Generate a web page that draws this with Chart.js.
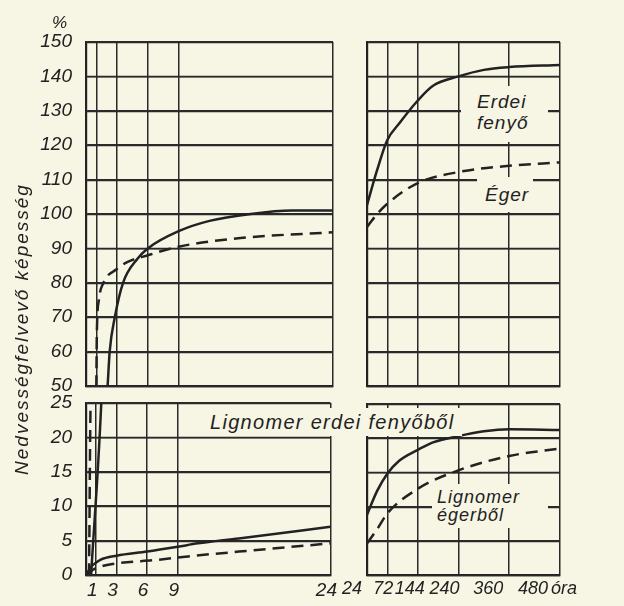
<!DOCTYPE html>
<html>
<head>
<meta charset="utf-8">
<script src="https://cdn.jsdelivr.net/npm/chart.js@4.4.1/dist/chart.umd.min.js"></script>
<style>
  body { margin: 0; background: #f7f5e3; width: 624px; height: 606px; overflow: hidden; position: relative; }
  .panel { position: absolute; }
  .txt { position: absolute; font-family: "Liberation Sans", Arial, sans-serif; font-style: italic; color: #222; background: #f7f5e3; z-index: 5; }
</style>
</head>
<body>
<div class="panel" style="left:0;top:0"><canvas id="tl" width="345" height="420"></canvas></div>
<div class="panel" style="left:350px;top:0"><canvas id="tr" width="220" height="390"></canvas></div>
<div class="panel" style="left:0;top:370px"><canvas id="bl" width="345" height="236"></canvas></div>
<div class="panel" style="left:335px;top:395px"><canvas id="br" width="289" height="211"></canvas></div>

<div class="txt" style="left:52px;top:13px;font-size:17px;background:none">%</div>
<div class="txt" style="left:-138px;top:318px;width:320px;text-align:center;font-size:19px;line-height:22px;letter-spacing:2px;transform:rotate(-90deg);background:none">Nedvességfelvevő képesség</div>
<div class="txt" style="left:461px;top:86px;width:87px;height:56px;font-size:19px;line-height:21px;padding-left:16px;box-sizing:border-box;padding-top:5px;letter-spacing:1px">Erdei<br>fenyő</div>
<div class="txt" style="left:477px;top:177px;width:56px;height:35px;font-size:19px;line-height:35px;padding-left:8px;box-sizing:border-box;letter-spacing:1px">Éger</div>
<div class="txt" style="left:206px;top:408px;width:256px;height:28px;font-size:20px;line-height:28px;padding-left:4px;box-sizing:border-box;letter-spacing:1.3px">Lignomer erdei fenyőből</div>
<div class="txt" style="left:432px;top:484px;width:116px;height:44px;font-size:18px;line-height:18px;padding-left:5px;padding-top:4px;box-sizing:border-box;letter-spacing:1px">Lignomer<br>égerből</div>

<script>
// hours 0-24 (wood curves, their steep start also shows in the lower panel)
const erdeiShortH = [0.5, 1.5, 2.1, 2.3, 2.8, 3.6, 5, 6, 9, 12, 16, 20, 24];
const erdeiShortPct = [0, 25, 50, 60, 70, 80, 87, 90, 95, 98, 100, 101, 101];
const egerShortH = [0.3, 0.45, 1.0, 1.05, 1.25, 1.7, 3, 4, 6, 9, 15, 24];
const egerShortPct = [0, 25, 50, 65, 75, 80, 84, 86, 88, 90.5, 93, 94.7];

// hours 24-480
const erdeiLongH = [24, 48, 72, 100, 144, 180, 240, 300, 360, 480];
const erdeiLongPct = [102.6, 112.8, 121.5, 126.3, 133, 137.3, 140, 141.9, 142.7, 143.3];
const egerLongH = [24, 48, 72, 144, 240, 360, 480];
const egerLongPct = [96.2, 100, 103, 109, 112.2, 114, 115];

// lignomer, 0-24 h
const lignErdeiShortH = [0, 0.5, 1, 1.4, 3, 6, 9, 11, 15, 24];
const lignErdeiShortPct = [0, 1.2, 1.8, 2.2, 2.8, 3.4, 4.1, 4.6, 5.3, 7];
const lignEgerShortH = [0, 0.5, 1, 2.6, 7, 10, 15, 24];
const lignEgerShortPct = [0, 0.6, 1.0, 1.6, 2.2, 2.7, 3.4, 4.6];

// lignomer, 24-480 h
const lignErdeiLongH = [24, 48, 72, 100, 144, 180, 240, 300, 360, 480];
const lignErdeiLongPct = [8.8, 12.3, 14.8, 16.7, 18.3, 19.4, 20.3, 21, 21.3, 21.2];
const lignEgerLongH = [24, 48, 72, 144, 240, 360, 480];
const lignEgerLongPct = [4.6, 6.7, 9, 12.6, 15.3, 17.4, 18.5];

const xTicksLeft = [0, 1, 3, 6, 9, 24];
const xTicksRight = [24, 72, 144, 240, 360, 480];
const yTicksTop = [50, 60, 70, 80, 90, 100, 110, 120, 130, 140, 150];
const yTicksBottom = [0, 5, 10, 15, 20, 25];
const rightLabelShift = [-15, -4, -8, -14, -21, -27];
const unitLabel = "óra";

const ink = "#222";
const fontFam = '"Liberation Sans", Arial, sans-serif';
Chart.defaults.font.family = fontFam;
Chart.defaults.font.style = "italic";
Chart.defaults.color = ink;

const pts = (xs, ys) => xs.map((x, i) => ({ x: x, y: ys[i] }));
const line = (xs, ys, dashed) => ({
  data: pts(xs, ys),
  borderColor: ink,
  borderWidth: 2.5,
  borderDash: dashed ? [12, 7] : [],
  pointRadius: 0,
  cubicInterpolationMode: "monotone",
  fill: false,
});

const grid = () => ({ color: "#2a2a2a", lineWidth: 1.5, drawTicks: false, drawOnChartArea: true });
const border = () => ({ display: true, color: "#222", width: 2.2 });

function xAxis(min, max, ticks, opts) {
  return {
    type: "linear", min: min, max: max,
    afterBuildTicks: (s) => { s.ticks = ticks.map((v) => ({ value: v })); },
    afterFit: (s) => { s.height = opts.height; },
    grid: grid(), border: border(),
    ticks: {
      display: opts.labels, autoSkip: false, maxRotation: 0, padding: 4,
      labelOffset: opts.shift || 0,
      font: { size: 19, style: "italic" },
      callback: (v) => (v === 0 ? "" : String(v)),
    },
  };
}
function yAxis(ticks, opts) {
  return {
    type: "linear", min: ticks[0], max: ticks[ticks.length - 1],
    afterBuildTicks: (s) => { s.ticks = ticks.map((v) => ({ value: v })); },
    afterFit: (s) => { s.width = opts.width; },
    grid: grid(), border: border(),
    ticks: { display: opts.labels, autoSkip: false, padding: 14, font: { size: 19, style: "italic" } },
  };
}

// horizontal rules drawn through the y scale, so every panel gets its full grid
const yRules = {
  id: "yRules",
  beforeDatasetsDraw(chart) {
    const ys = chart.scales.y;
    const a = chart.chartArea;
    const ctx = chart.ctx;
    ctx.save();
    ctx.strokeStyle = "#2a2a2a";
    ctx.lineWidth = 1.5;
    ctx.setLineDash([]);
    ys.ticks.forEach((t) => {
      const py = Math.round(ys.getPixelForValue(t.value)) + 0.5;
      ctx.beginPath();
      ctx.moveTo(a.left, py);
      ctx.lineTo(a.right, py);
      ctx.stroke();
    });
    ctx.restore();
  },
};

const rightLabels = {
  id: "rightLabels",
  afterDraw(chart) {
    const xs = chart.scales.x;
    const ctx = chart.ctx;
    const y = chart.chartArea.bottom + 5;
    ctx.save();
    ctx.font = "italic 18px " + fontFam;
    ctx.fillStyle = ink;
    ctx.textBaseline = "top";
    ctx.textAlign = "center";
    xTicksRight.forEach((v, i) => {
      ctx.fillText(String(v), xs.getPixelForValue(v) + rightLabelShift[i], y);
    });
    ctx.textAlign = "left";
    ctx.fillText(unitLabel, chart.chartArea.right - 9, y);
    ctx.restore();
  },
};

function make(id, datasets, x, y, padding, plugins) {
  new Chart(document.getElementById(id), {
    type: "line",
    data: { datasets: datasets },
    options: {
      responsive: false,
      animation: false,
      devicePixelRatio: 1,
      layout: { padding: padding },
      plugins: { legend: { display: false }, tooltip: { enabled: false } },
      scales: { x: x, y: y },
    },
    plugins: [yRules].concat(plugins || []),
  });
}

make("tl",
  [line(erdeiShortH, erdeiShortPct, false), line(egerShortH, egerShortPct, true)],
  xAxis(0, 24, xTicksLeft, { height: 0, labels: false }),
  yAxis(yTicksTop, { width: 86, labels: true }),
  { top: 42, right: 12, bottom: 34, left: 0 });

make("tr",
  [line(erdeiLongH, erdeiLongPct, false), line(egerLongH, egerLongPct, true)],
  xAxis(24, 480, xTicksRight, { height: 0, labels: false }),
  yAxis(yTicksTop, { width: 0, labels: false }),
  { top: 42, right: 10, bottom: 4, left: 17 });

make("bl",
  [line(erdeiShortH, erdeiShortPct, false), line(egerShortH, egerShortPct, true),
   line(lignErdeiShortH, lignErdeiShortPct, false), line(lignEgerShortH, lignEgerShortPct, true)],
  xAxis(0, 24, xTicksLeft, { height: 31, labels: true, shift: -4 }),
  yAxis(yTicksBottom, { width: 86, labels: true }),
  { top: 33, right: 12, bottom: 0, left: 0 });

make("br",
  [line(lignErdeiLongH, lignErdeiLongPct, false), line(lignEgerLongH, lignEgerLongPct, true)],
  xAxis(24, 480, xTicksRight, { height: 31, labels: false }),
  yAxis(yTicksBottom, { width: 0, labels: false }),
  { top: 9, right: 64, bottom: 0, left: 32 },
  [rightLabels]);
</script>
</body>
</html>
